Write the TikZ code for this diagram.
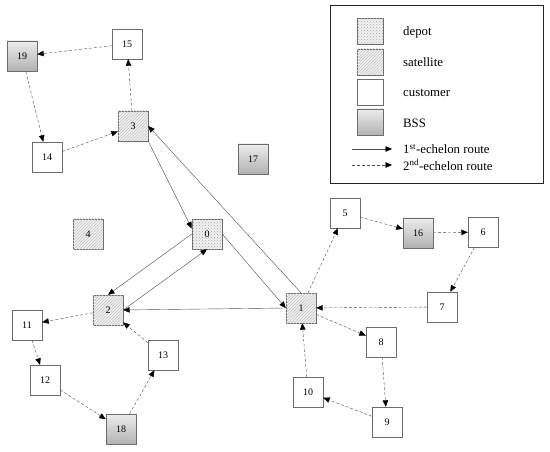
\documentclass[tikz,border=0pt]{standalone}
\usepackage{fontspec}
\setmainfont{Liberation Serif}
\usetikzlibrary{arrows.meta, patterns, positioning}

\begin{document}
\begin{tikzpicture}[
    x=1pt, y=-1pt,
    site/.style={draw=gray!85!black, minimum size=30pt, inner sep=0pt,
                 font=\fontsize{10}{10}\selectfont},
    depot/.style={site, fill=gray!10,
                  postaction={pattern=crosshatch dots, pattern color=gray!70}},
    sat/.style={site, fill=gray!12,
                postaction={pattern=north east lines, pattern color=gray!45}},
    cust/.style={site, fill=white},
    bss/.style={site, top color=gray!15, bottom color=gray!60},
    first/.style={draw=black!70, -{Triangle[length=6.5pt, width=5.5pt, black]}},
    second/.style={first, dash pattern=on 3pt off 2pt},
    lbl/.style={anchor=west, font=\fontsize{12.8}{12.8}\selectfont, inner sep=0pt}
  ]
  \useasboundingbox (0,0) rectangle (550,452);

  % legend
  \node[draw=black!85, line width=0.9pt, minimum width=213pt,
        minimum height=178pt] (legend) at (436.5,94) {};
  \node[depot, minimum size=26pt] (kdepot) at (370,31) {};
  \node[sat,   minimum size=26pt] (ksat)   at (370,62) {};
  \node[cust,  minimum size=26pt] (kcust)  at (370,92) {};
  \node[bss,   minimum size=26pt] (kbss)   at (370,122) {};
  \node[lbl] at (403,32)  {depot};
  \node[lbl] at (403,62)  {satellite};
  \node[lbl] at (403,93)  {customer};
  \node[lbl] at (403,123) {BSS};
  \coordinate (k1a) at (352,149);
  \coordinate (k1b) at (392,149);
  \coordinate (k2a) at (352,165);
  \coordinate (k2b) at (392,165);
  \node[lbl] at (403,149) {1\textsuperscript{st}-echelon route};
  \node[lbl] at (403,165) {2\textsuperscript{nd}-echelon route};
  \path (k1a) edge[first]  (k1b);
  \path (k2a) edge[second] (k2b);

  % depot and satellites
  \node[depot] (0) at (207,234) {0};
  \node[sat]   (1) at (301,308) {1};
  \node[sat]   (2) at (108,310) {2};
  \node[sat]   (3) at (133,126) {3};
  \node[sat]   (4) at (88,234)  {4};

  % customers
  \node[cust] (5)  at (345,213) {5};
  \node[cust] (6)  at (483,232) {6};
  \node[cust] (7)  at (442,307) {7};
  \node[cust] (8)  at (381,342) {8};
  \node[cust] (9)  at (387,422) {9};
  \node[cust] (10) at (308,392) {10};
  \node[cust] (11) at (27,325)  {11};
  \node[cust] (12) at (45,380)  {12};
  \node[cust] (13) at (163,355) {13};
  \node[cust] (14) at (47,157)  {14};
  \node[cust] (15) at (127,44)  {15};

  % BSS
  \node[bss] (16) at (418,233) {16};
  \node[bss] (17) at (253,159) {17};
  \node[bss] (18) at (121,429) {18};
  \node[bss] (19) at (22,56)   {19};

  % 1st echelon
  \path (3.south east) edge[first] (0.160);
  \path (0.west)  edge[first] (2.north);
  \path (2.east)  edge[first] (0.south);
  \path (0.east)  edge[first] (1.west);
  \path (1.west)  edge[first] (2.east);
  \path (1.north) edge[first] (3.east);

  % 2nd echelon
  \path (3)  edge[second] (15);
  \path (15) edge[second] (19);
  \path (19) edge[second] (14);
  \path (14) edge[second] (3);
  \path (2)  edge[second] (11);
  \path (11) edge[second] (12);
  \path (12) edge[second] (18);
  \path (18) edge[second] (13);
  \path (13) edge[second] (2);
  \path (1)  edge[second] (5);
  \path (5)  edge[second] (16);
  \path (16) edge[second] (6);
  \path (6)  edge[second] (7);
  \path (7)  edge[second] (1);
  \path (1)  edge[second] (8);
  \path (8)  edge[second] (9);
  \path (9)  edge[second] (10);
  \path (10) edge[second] (1);

\end{tikzpicture}
\end{document}
